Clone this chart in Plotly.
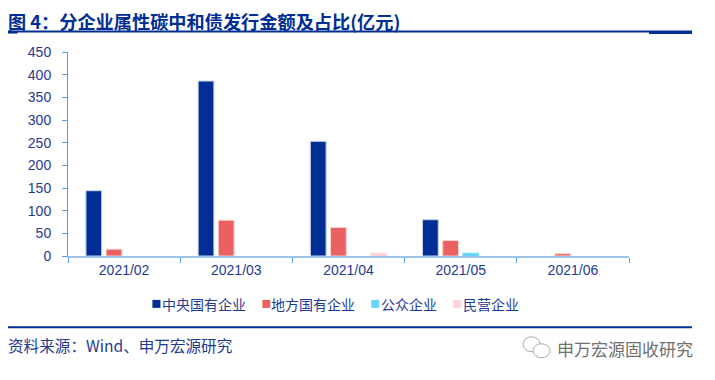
import plotly.graph_objects as go

categories = ["2021/02", "2021/03", "2021/04", "2021/05", "2021/06"]
central_soe = [144, 386, 253, 80, None]
local_soe = [15, 79, 63, 34, 5]
public_ent = [None, None, None, 6, None]
private_ent = [None, None, 6, None, None]
y_ticks = [0, 50, 100, 150, 200, 250, 300, 350, 400, 450]

OFF = 8  # page body margin
W, H = 715 - OFF, 380 - OFF
L, R, T, B = 67.5, 629, 51.5, 256
NAVY = "#002E94"
TXT = "#1F3A93"
FONT = "Noto Sans CJK SC"

def px(v): return (v - L) / (R - L)
def py(v): return (B - v) / (B - T)

fig = go.Figure()
series = [
    ("中央国有企业", central_soe, "#002E94", "#C9D3EA", 152, 160),
    ("地方国有企业", local_soe, "#EB6060", "#F9D3D3", 262, 269),
    ("公众企业", public_ent, "#66D6FF", "#66D6FF", 371, 379),
    ("民营企业", private_ent, "#FDD5D8", "#FDD5D8", 453, 461),
]
shapes = [
    dict(type="line", xref="paper", yref="paper", x0=px(7), x1=px(692), y0=py(31), y1=py(31),
         line=dict(color=NAVY, width=2)),
    dict(type="line", xref="paper", yref="paper", x0=px(7), x1=px(17), y0=py(32), y1=py(32),
         line=dict(color=NAVY, width=2)),
    dict(type="line", xref="paper", yref="paper", x0=px(649), x1=px(692), y0=py(32), y1=py(32),
         line=dict(color=NAVY, width=3)),
    dict(type="line", xref="paper", yref="paper", x0=px(7), x1=px(692), y0=py(327.5), y1=py(327.5),
         line=dict(color=NAVY, width=2)),
    dict(type="circle", xref="paper", yref="paper", x0=px(523), x1=px(540), y0=py(337), y1=py(352),
         line=dict(color="#AAAAAA", width=1), fillcolor="white"),
    dict(type="circle", xref="paper", yref="paper", x0=px(533), x1=px(550), y0=py(344), y1=py(358),
         line=dict(color="#AAAAAA", width=1), fillcolor="white"),
]
annotations = [
    dict(text="<b>图 4：分企业属性碳中和债发行金额及占比(亿元)</b>", x=px(5), y=py(20), xref="paper", yref="paper",
         xanchor="left", yanchor="middle", showarrow=False,
         font=dict(family=FONT, size=18.2, color=NAVY)),
    dict(text="资料来源：Wind、申万宏源研究", x=px(5), y=py(345), xref="paper", yref="paper",
         xanchor="left", yanchor="middle", showarrow=False,
         font=dict(family=FONT, size=15.6, color=TXT)),
    dict(text="申万宏源固收研究", x=px(695), y=py(349), xref="paper", yref="paper",
         xanchor="right", yanchor="middle", showarrow=False,
         font=dict(family=FONT, size=17, color="#707070")),
]
for name, vals, c, lc, sx, tx in series:
    fig.add_bar(x=categories, y=vals, name=name, showlegend=False,
                marker=dict(color=c, line=dict(color=lc, width=1)))
    shapes.append(dict(type="rect", xref="paper", yref="paper", x0=px(sx), x1=px(sx + 8),
                       y0=py(300), y1=py(308), line=dict(width=0), fillcolor=c))
    annotations.append(dict(text=name, x=px(tx), y=py(304), xref="paper", yref="paper",
                            xanchor="left", yanchor="middle", showarrow=False,
                            font=dict(family=FONT, size=14, color=TXT)))

fig.update_layout(
    width=W, height=H, autosize=False,
    margin=dict(l=L - OFF, r=W - (R - OFF), t=T - OFF, b=H - (B - OFF), autoexpand=False),
    paper_bgcolor="white", plot_bgcolor="white",
    barmode="group", bargap=0.28, bargroupgap=0.22,
    font=dict(family="Liberation Sans, Arial", size=13, color=TXT),
    showlegend=False,
    shapes=shapes, annotations=annotations,
    xaxis=dict(type="category", categoryorder="array", categoryarray=categories,
               tickson="boundaries", ticks="outside", ticklen=5, tickcolor="#5B9BD5",
               showline=True, linecolor="#9DC3E6", linewidth=2, showgrid=False,
               tickfont=dict(family="Liberation Sans, Arial", size=14, color=TXT)),
    yaxis=dict(range=[0, 450], tickvals=y_ticks, ticks="outside", ticklen=5, tickcolor="#5B9BD5",
               showline=True, linecolor="#5B9BD5", linewidth=1, showgrid=False, zeroline=False,
               ticklabelstandoff=8,
               tickfont=dict(family="Liberation Sans, Arial", size=14, color=TXT)),
)
fig.write_html("out.html")
